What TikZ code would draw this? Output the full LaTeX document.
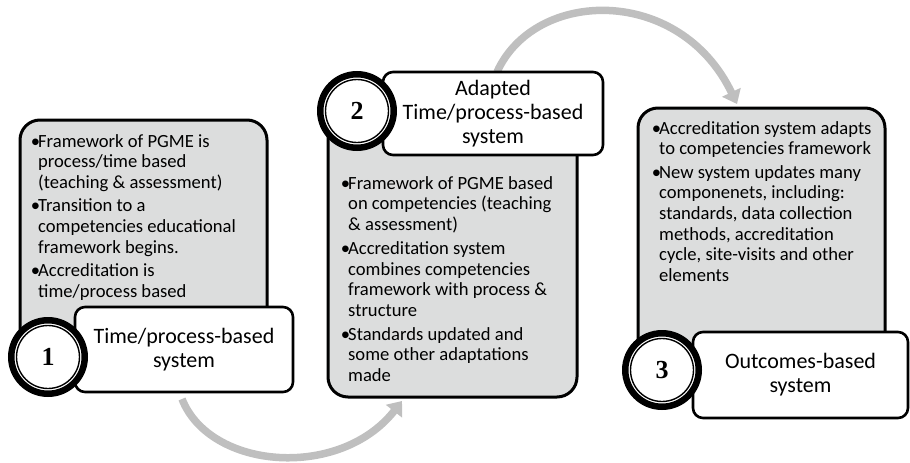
\documentclass[tikz,border=0pt]{standalone}
\usepackage{fontspec}
\setmainfont{Carlito}
\newfontfamily\numfont{Liberation Serif}
\usetikzlibrary{arrows.meta}
\definecolor{boxgray}{RGB}{220,221,221}
\definecolor{arrowgray}{RGB}{191,191,191}
\newcommand\bul{\makebox[6.5pt][l]{\hspace{-0.8pt}•}}
\newcommand\ind{\hspace*{6.5pt}}
\tikzset{
  graybox/.style={draw=black, line width=3pt, fill=boxgray, rounded corners=20pt},
  labelbox/.style={draw=black, line width=2.6pt, fill=white, rounded corners=10pt,
    align=center, inner sep=0pt, font=\fontsize{22}{23.8}\selectfont},
  bodytext/.style={anchor=north west, align=left, inner sep=0pt,
    font=\fontsize{18.6}{20.6}\selectfont},
  stepnum/.style={circle, draw=black, line width=6.5pt, fill=white, minimum size=73.5pt,
    inner sep=0pt, font=\numfont\bfseries\fontsize{26}{28}\selectfont},
  innerring/.style={draw=black, line width=1.4pt},
  flow/.style={draw=arrowgray, line width=7.5pt,
    -{Triangle[width=20pt,length=13pt]}}
}
\begin{document}
\begin{tikzpicture}[x=1pt,y=-1pt]
\useasboundingbox (0,0) rectangle (910,463);

% stage panels
\draw[graybox] (20,120) rectangle (267,370);
\draw[graybox] (328,110) rectangle (577,397);
\draw[graybox] (638,108) rectangle (885,375);

\node[bodytext] (t1) at (31.5,134) {\bul Framework of PGME is\\
  \ind process/time based\\
  \ind (teaching \& assessment)\\[3pt]
  \bul Transition to a\\
  \ind competencies educational\\
  \ind framework begins.\\[3pt]
  \bul Accreditation is\\
  \ind time/process based};

\node[bodytext] (t2) at (341.5,176) {\bul Framework of PGME based\\
  \ind on competencies (teaching\\
  \ind \& assessment)\\[3.5pt]
  \bul Accreditation system\\
  \ind combines competencies\\
  \ind framework with process \&\\
  \ind structure\\[3.5pt]
  \bul Standards updated and\\
  \ind some other adaptations\\
  \ind made};

\node[bodytext] (t3) at (652.5,121) {\bul Accreditation system adapts\\
  \ind to competencies framework\\[3pt]
  \bul New system updates many\\
  \ind componenets, including:\\
  \ind standards, data collection\\
  \ind methods, accreditation\\
  \ind cycle, site-visits and other\\
  \ind elements};

% transition arrows
\coordinate (a1s) at (182,399);
\coordinate (a1e) at (402,401);
\coordinate (a2s) at (497,72);
\coordinate (a2e) at (737,104);
\draw[flow] (a1s) .. controls (210,470) and (340,480) .. (a1e);
\draw[flow] (a2s) .. controls (535,-12) and (680,-15) .. (a2e);

% stage titles
\node[labelbox, minimum width=218pt, minimum height=85pt] (l1) at (184,349.5)
  {Time/process-based\\system};
\node[labelbox, minimum width=220pt, minimum height=83pt] (l2) at (493,113.5)
  {Adapted\\Time/process-based\\system};
\node[labelbox, minimum width=215pt, minimum height=86pt] (l3) at (800.5,375)
  {Outcomes-based\\system};

% step numbers: heavy outer ring with a thin ring inside
\node[stepnum] (n1) at (48,357) {1};
\node[stepnum] (n2) at (357,111) {2};
\node[stepnum] (n3) at (662,370) {3};
\foreach \n in {n1,n2,n3}
  \draw[innerring] (\n.center) circle[radius=31.5pt];
\end{tikzpicture}
\end{document}
